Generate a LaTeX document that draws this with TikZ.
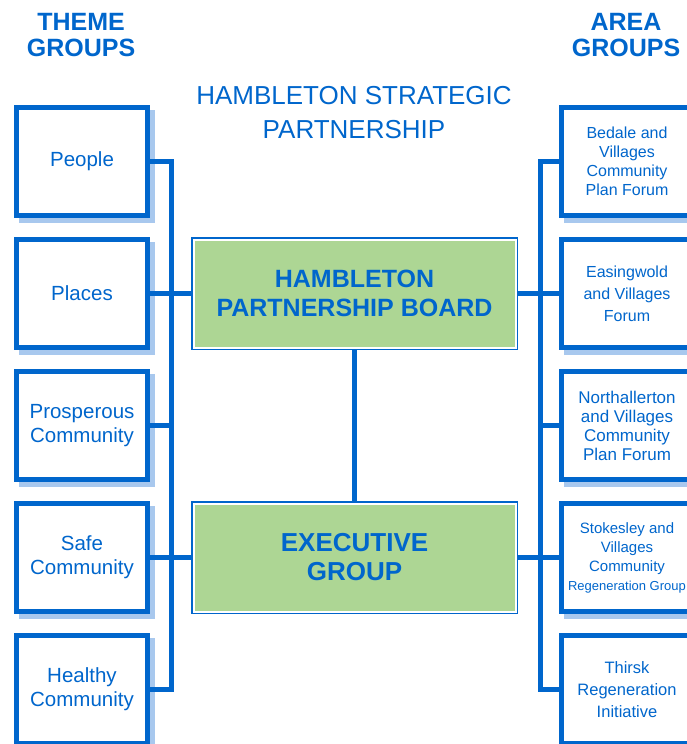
\documentclass[tikz,border=0pt]{standalone}
\usepackage{fontspec}
\setmainfont{Liberation Sans}
\definecolor{hblue}{RGB}{0,102,204}
\definecolor{hshadow}{RGB}{168,200,238}
\definecolor{hgreen}{RGB}{173,214,148}
\begin{document}
\begin{tikzpicture}[x=1pt,y=-1pt,
  groupbox/.style={draw=hblue, line width=5pt, fill=white, minimum width=131pt,
    minimum height=108pt, inner sep=0pt, align=center, text=hblue,
    preaction={draw=hshadow, fill=hshadow, line width=5pt,
      transform canvas={shift={(5pt,-5pt)}}}},
  lefttext/.style={font=\fontsize{20.5}{24}\selectfont},
  centerbox/.style={draw=hblue, line width=3pt, fill=hgreen, minimum width=324pt,
    minimum height=110pt, inner sep=0pt, align=center, text=hblue},
  innerline/.style={draw=white, line width=2pt},
  conn/.style={draw=hblue, line width=5pt, line join=miter},
  titletext/.style={text=hblue, align=center, inner sep=0pt}]
\useasboundingbox (0,0) rectangle (686,744);

% titles
\node[titletext, font=\bfseries\fontsize{25}{26}\selectfont] (tg) at (81,35) {THEME\\GROUPS};
\node[titletext, font=\bfseries\fontsize{25}{26}\selectfont] (ag) at (626,35) {AREA\\GROUPS};
\node[titletext, font=\fontsize{26}{34}\selectfont] (hsp) at (354,113) {HAMBLETON STRATEGIC\\PARTNERSHIP};

% spine positions
\coordinate (ls) at (171,0);
\coordinate (rs) at (540,0);

% left boxes
\node[groupbox, lefttext] (people) at (82,161.5) {People};
\node[groupbox, lefttext] (places) at (82,293.5) {Places};
\node[groupbox, lefttext] (prosp) at (82,425.5) {Prosperous\\Community};
\node[groupbox, lefttext] (safe) at (82,557.5) {Safe\\Community};
\node[groupbox, lefttext] (healthy) at (82,689.5) {Healthy\\Community};

% right boxes
\node[groupbox, font=\fontsize{16}{19}\selectfont] (bedale) at (627,161.5) {Bedale and\\Villages\\Community\\Plan Forum};
\node[groupbox, font=\fontsize{16}{22}\selectfont] (easing) at (627,293.5) {Easingwold\\and Villages\\Forum};
\node[groupbox, font=\fontsize{17}{19}\selectfont] (north) at (627,425.5) {Northallerton\\and Villages\\Community\\Plan Forum};
\node[groupbox, font=\fontsize{15}{19}\selectfont] (stokes) at (627,557.5) {Stokesley and\\Villages\\Community\\{\fontsize{13}{19}\selectfont Regeneration Group}};
\node[groupbox, font=\fontsize{16.5}{22}\selectfont] (thirsk) at (627,689.5) {Thirsk\\Regeneration\\Initiative};

% center boxes
\node[centerbox, font=\bfseries\fontsize{25}{29}\selectfont] (hpb) at (354.5,293.5) {HAMBLETON\\PARTNERSHIP BOARD};
\node[centerbox, font=\bfseries\fontsize{26}{29}\selectfont] (exec) at (354.5,557.5) {EXECUTIVE\\GROUP};
\draw[innerline] ([shift={(2.5,2.5)}]hpb.north west) rectangle ([shift={(-2.5,-2.5)}]hpb.south east);
\draw[innerline] ([shift={(2.5,2.5)}]exec.north west) rectangle ([shift={(-2.5,-2.5)}]exec.south east);

% left tree
\draw[conn] (people.east) -| (ls |- healthy.east) -- (healthy.east);
\draw[conn] (places.east) -- (hpb.west);
\draw[conn] (prosp.east) -- (prosp.east -| ls);
\draw[conn] (safe.east) -- (exec.west);

% right tree
\draw[conn] (bedale.west) -| (rs |- thirsk.west) -- (thirsk.west);
\draw[conn] (easing.west) -- (hpb.east);
\draw[conn] (north.west) -- (north.west -| rs);
\draw[conn] (stokes.west) -- (exec.east);

% centre link
\draw[conn] (hpb.south) -- (exec.north);
\end{tikzpicture}
\end{document}
